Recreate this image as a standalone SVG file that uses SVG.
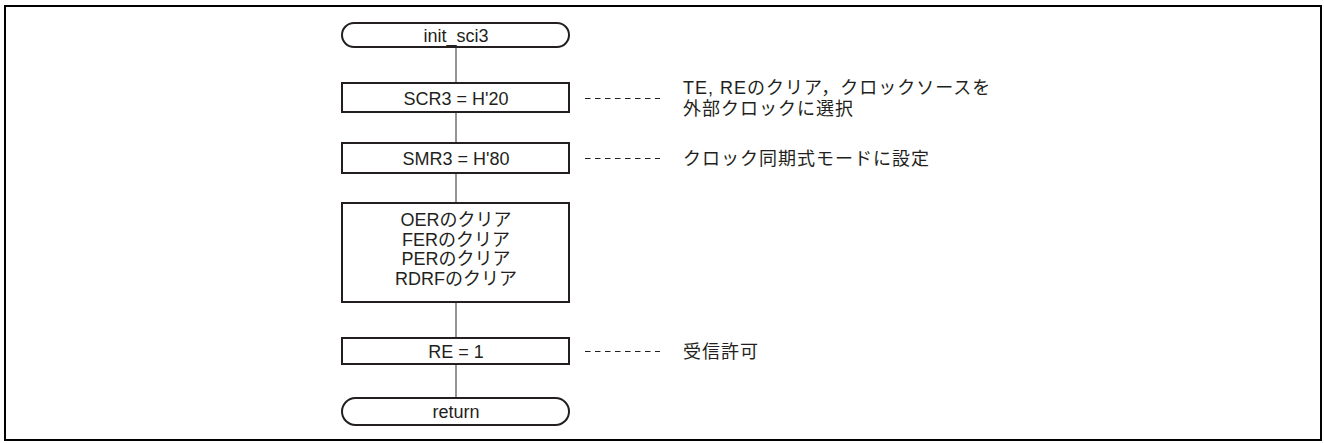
<svg xmlns="http://www.w3.org/2000/svg" width="1324" height="443" viewBox="0 0 1324 443">
<style>
.box{fill:#fff;stroke:#231f20;stroke-width:2}
.ln{stroke:#4d4d4d;stroke-width:1.2;fill:none}
.dash{stroke:#231f20;stroke-width:1;stroke-dasharray:5.5,4.5;fill:none}
text{font-family:"Liberation Sans","Noto Sans CJK JP",sans-serif;font-size:18px;fill:#231f20}
.c{text-anchor:middle}
.cm{letter-spacing:1px}
</style>
<rect x="5" y="6" width="1316" height="434" fill="#fff" stroke="#000" stroke-width="2"/>
<g id="connectors">
<line class="ln" x1="456" y1="47" x2="456" y2="83"/>
<line class="ln" x1="456" y1="112" x2="456" y2="143"/>
<line class="ln" x1="456" y1="173" x2="456" y2="203"/>
<line class="ln" x1="456" y1="302" x2="456" y2="338"/>
<line class="ln" x1="456" y1="364" x2="456" y2="398"/>
<line class="dash" x1="585" y1="98.5" x2="660" y2="98.5"/>
<line class="dash" x1="585" y1="158.5" x2="660" y2="158.5"/>
<line class="dash" x1="585" y1="351.5" x2="660" y2="351.5"/>
</g>
<g id="start">
<rect class="box" x="342" y="23" width="227" height="24" rx="12"/>
<text class="c" x="456" y="41.5">init_sci3</text>
</g>
<g id="scr3">
<rect class="box" x="342" y="83" width="227" height="29"/>
<text class="c" x="456" y="104.5">SCR3 = H'20</text>
</g>
<g id="smr3">
<rect class="box" x="342" y="143" width="227" height="30"/>
<text class="c" x="456" y="164.5">SMR3 = H'80</text>
</g>
<g id="clear">
<rect class="box" x="342" y="203" width="227" height="99"/>
<text class="c" x="456" y="226">OERのクリア</text>
<text class="c" x="456" y="245.5">FERのクリア</text>
<text class="c" x="456" y="265">PERのクリア</text>
<text class="c" x="456" y="284.5">RDRFのクリア</text>
</g>
<g id="re">
<rect class="box" x="342" y="338" width="227" height="26"/>
<text class="c" x="456" y="357.5">RE = 1</text>
</g>
<g id="return">
<rect class="box" x="342" y="398" width="227" height="27" rx="13.5"/>
<text class="c" x="456" y="418">return</text>
</g>
<g id="comments">
<text class="cm" x="683" y="94">TE, REのクリア，クロックソースを</text>
<text class="cm" x="683" y="115">外部クロックに選択</text>
<text class="cm" x="683" y="164.5">クロック同期式モードに設定</text>
<text class="cm" x="683" y="357.5">受信許可</text>
</g>
</svg>
